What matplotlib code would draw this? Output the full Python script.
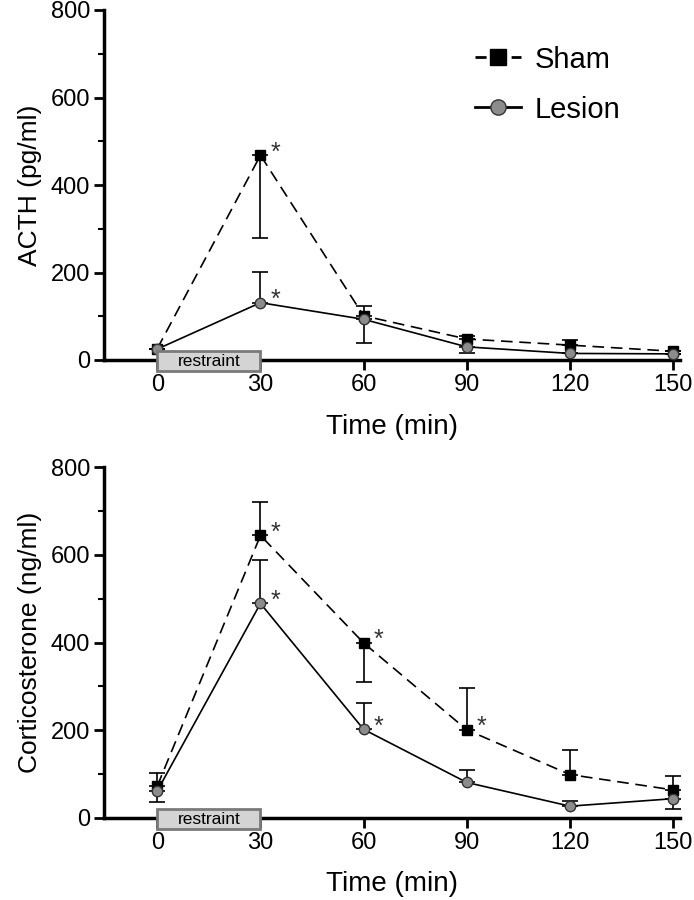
import matplotlib
matplotlib.use("Agg")
import matplotlib.pyplot as plt
from matplotlib.patches import Rectangle
from matplotlib.lines import Line2D

plt.rcParams['font.family'] = ['Liberation Sans', 'DejaVu Sans']

# ---- data ----
time = [0, 30, 60, 90, 120, 150]
xticks = [0, 30, 60, 90, 120, 150]

acth_sham = [26, 468, 101, 48, 34, 20]
acth_sham_lo = [0, 188, 0, 0, 0, 0]
acth_sham_hi = [0, 0, 22, 8, 12, 0]
acth_lesion = [25, 131, 93, 30, 15, 14]
acth_lesion_lo = [0, 0, 55, 13, 0, 0]
acth_lesion_hi = [0, 70, 0, 0, 0, 0]
acth_sham_star = [False, True, False, False, False, False]
acth_lesion_star = [False, True, False, False, False, False]

cort_sham = [73, 644, 399, 201, 99, 64]
cort_sham_lo = [0, 0, 90, 0, 0, 0]
cort_sham_hi = [30, 77, 0, 95, 56, 32]
cort_lesion = [62, 489, 202, 81, 27, 44]
cort_lesion_lo = [26, 0, 0, 0, 0, 23]
cort_lesion_hi = [0, 98, 59, 28, 12, 0]
cort_sham_star = [False, True, True, True, False, False]
cort_lesion_star = [False, True, True, False, False, False]

W, H = 694, 900
fig = plt.figure(figsize=(W / 100, H / 100), dpi=100)

def fx(px):
    return px / W

def fy(py):
    return 1 - py / H

ax1 = fig.add_axes([fx(104), fy(360), fx(680) - fx(104), fy(10) - fy(360)])
ax2 = fig.add_axes([fx(104), fy(818), fx(680) - fx(104), fy(467) - fy(818)])

def panel(ax, sham, slo, shi, les, llo, lhi, sstar, lstar, ylabel, xlpad):
    ax.errorbar(time, sham, yerr=[slo, shi], fmt='none', ecolor='black',
                elinewidth=1.2, capsize=6, capthick=1.2, zorder=3)
    ax.errorbar(time, les, yerr=[llo, lhi], fmt='none', ecolor='black',
                elinewidth=1.2, capsize=6, capthick=1.2, zorder=3)
    ax.plot(time, sham, color='black', lw=1.2, dashes=(7, 4), marker='s',
            markersize=7.5, markerfacecolor='black', markeredgecolor='black',
            zorder=4, clip_on=False)
    ax.plot(time, les, color='black', lw=1.2, linestyle='-', marker='o',
            markersize=7.5, markerfacecolor='#8c8c8c', markeredgecolor='#333333',
            markeredgewidth=1, zorder=5, clip_on=False)
    for vals, stars in ((sham, sstar), (les, lstar)):
        for x, y, s in zip(time, vals, stars):
            if s:
                ax.annotate('*', (x, y), xytext=(7, 2), textcoords='offset points',
                            fontsize=18, color='#333333', ha='left', va='center')
    ax.set_xlim(-15.5, 152)
    ax.set_ylim(0, 800)
    ax.set_xticks(xticks)
    ax.set_xticklabels([str(t) for t in xticks])
    ax.set_yticks([0, 200, 400, 600, 800])
    ax.set_yticks([100, 300, 500, 700], minor=True)
    ax.tick_params(axis='both', which='major', direction='out', length=7,
                   width=2, labelsize=17, pad=3)
    ax.tick_params(axis='y', which='minor', direction='out', length=4, width=1.5)
    for sp in ['top', 'right']:
        ax.spines[sp].set_visible(False)
    for sp in ['left', 'bottom']:
        ax.spines[sp].set_linewidth(2.5)
    ax.set_xlabel('Time (min)', fontsize=20, labelpad=xlpad)
    ax.set_ylabel(ylabel, fontsize=19, labelpad=6)
    rect = Rectangle((0, -25), 30, 45, facecolor='#d4d4d4', edgecolor='#7a7a7a',
                     lw=2, zorder=6, clip_on=False)
    ax.add_patch(rect)
    ax.text(15, -3, 'restraint', ha='center', va='center', fontsize=12.5,
            zorder=7, clip_on=False)

panel(ax1, acth_sham, acth_sham_lo, acth_sham_hi, acth_lesion, acth_lesion_lo,
      acth_lesion_hi, acth_sham_star, acth_lesion_star, 'ACTH (pg/ml)', 13)
panel(ax2, cort_sham, cort_sham_lo, cort_sham_hi, cort_lesion, cort_lesion_lo,
      cort_lesion_hi, cort_sham_star, cort_lesion_star, 'Corticosterone (ng/ml)', 12)

h1 = Line2D([], [], color='black', lw=2, dashes=(4, 9), marker='s',
            markersize=11, markerfacecolor='black', markeredgecolor='black')
h2 = Line2D([], [], color='black', lw=2, marker='o', markersize=11,
            markerfacecolor='#8c8c8c', markeredgecolor='#333333')
ax1.legend([h1, h2], ['Sham', 'Lesion'], loc='upper left',
           bbox_to_anchor=(0.598, 0.973), frameon=False,
           handlelength=1.6, handletextpad=0.45, labelspacing=0.75,
           prop={'family': 'Liberation Sans', 'size': 21})

fig.savefig('out.png', dpi=100)
